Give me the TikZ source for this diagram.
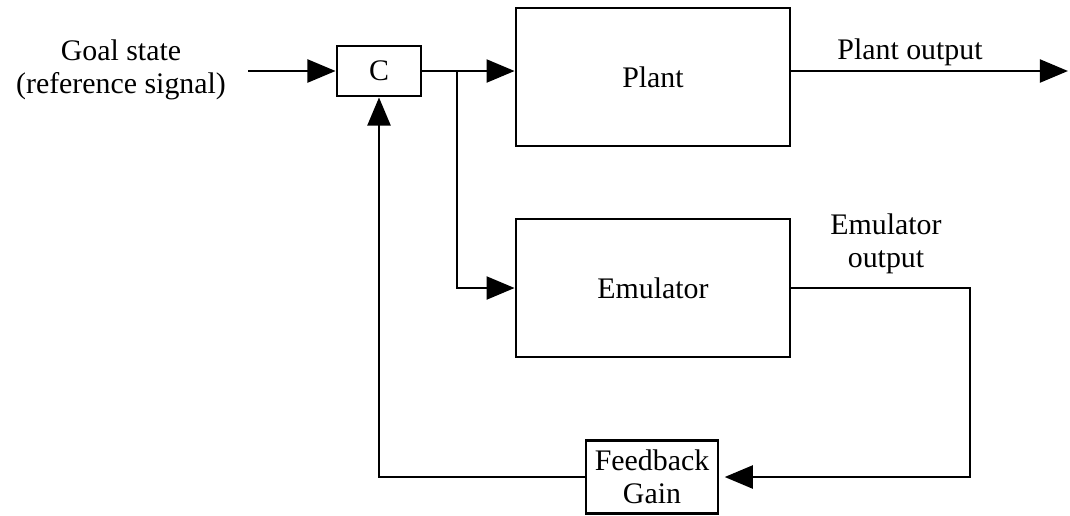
\documentclass[tikz,border=0pt]{standalone}
\usepackage{fontspec}
\setmainfont{Liberation Serif}
\usetikzlibrary{arrows.meta,positioning,calc}

\begin{document}
\begin{tikzpicture}[x=0.02cm, y=-0.02cm,
    every node/.style={font=\fontsize{17}{19}\selectfont},
    block/.style={draw, line width=1.6pt, inner sep=2pt, align=center},
    wire/.style={line width=1.6pt},
    sig/.style={wire, -{Triangle[length=16pt,width=13pt]}}]
    \useasboundingbox (0,0) rectangle (1070,515);

    % Blocks
    \node[block, minimum width=1.68cm, minimum height=1.0cm] (ctrl) at (379,71) {C};
    \node[block, minimum width=5.48cm, minimum height=2.76cm] (plant) at (653,77) {Plant};
    \node[block, minimum width=5.48cm, minimum height=2.76cm] (emu) at (653,288) {Emulator};
    \node[block, minimum width=2.64cm, minimum height=1.46cm] (gain) at (652,477) {Feedback\\Gain};

    % Labels
    \node[align=center] (goal) at (121,70) {Goal state\\(reference signal)};
    \node (plabel) at (910,52) {Plant output};
    \node[align=center] (elabel) at (886,244) {Emulator\\output};

    % Free ends and corners
    \coordinate (in) at (248,71);
    \coordinate (out) at (1068,71);
    \coordinate (split) at (457,71);
    \coordinate (corner) at (970,288);

    % Signals
    \draw[sig] (in) -- (ctrl.west);
    \draw[sig] (ctrl.east) -- (ctrl.east -| plant.west);
    \draw[sig] (ctrl.east -| plant.east) -- (out);
    \draw[sig] (split) |- (emu.west);
    \draw[sig] (emu.east) -- (corner) |- ([xshift=3pt]gain.east);
    \draw[sig] (gain.west) -| (ctrl.south);
\end{tikzpicture}
\end{document}
